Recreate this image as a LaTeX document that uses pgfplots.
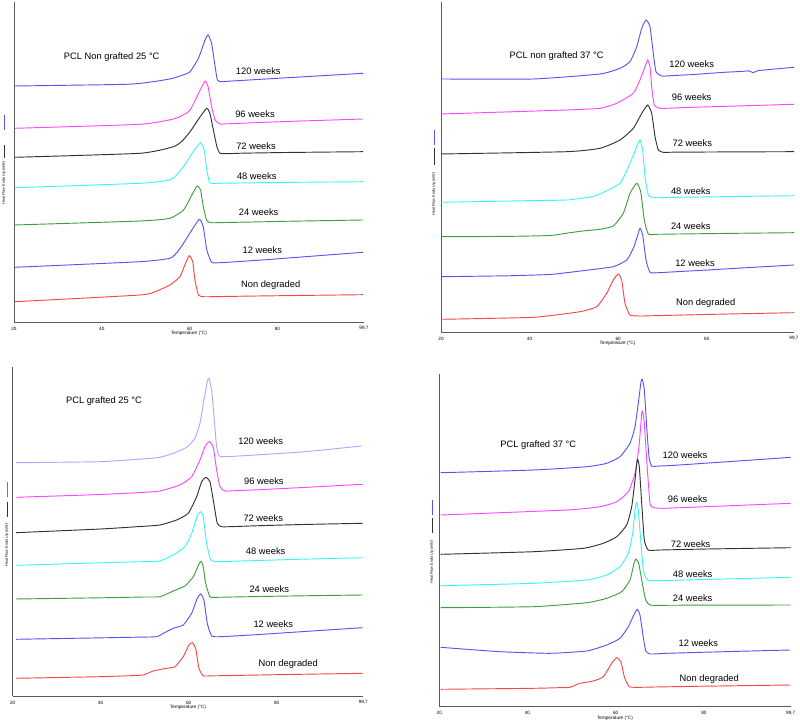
\documentclass[border=0pt]{standalone}
\usepackage{pgfplots}
\pgfplotsset{compat=1.18}
\usepackage{fontspec}
\setmainfont{Liberation Sans}
\definecolor{cblue}{RGB}{85,85,240}
\definecolor{cmag}{RGB}{255,70,255}
\definecolor{cblack}{RGB}{50,50,50}
\definecolor{ccyan}{RGB}{60,245,245}
\definecolor{cgreen}{RGB}{60,160,60}
\definecolor{cred}{RGB}{245,70,70}
\definecolor{clav}{RGB}{170,170,255}
\definecolor{caxis}{RGB}{90,90,90}
\pgfplotsset{dscax/.style={scale only axis, xmin=20, xmax=99.7, ymin=0,
  axis x line=bottom, axis y line=left,
  axis line style={-, draw=caxis, line width=0.6pt},
  xtick={20,40,60,80,99.7}, xticklabels={20,40,60,80,{99,7}},
  ytick=\empty, major tick length=0pt,
  /pgf/number format/assume math mode=true,
  tick label style={font=\fontsize{3.5}{4}\selectfont, text=black},
  xticklabel style={anchor=center, yshift=-5pt},
  xlabel={Temperature (°C)},
  xlabel style={font=\fontsize{3.5}{4}\selectfont, at={(axis description cs:0.5,0)}, anchor=center, yshift=-8.6pt},
  clip=false,
  every axis plot/.append style={smooth, tension=0.3, line width=0.7pt, no markers}}}
\tikzset{lab/.style={font=\fontsize{7}{8}\selectfont},
  ylab/.style={font=\fontsize{2.8}{3}\selectfont, rotate=90}}
\begin{document}
\begin{tikzpicture}
\useasboundingbox (0,0) rectangle (600pt,543pt);
% ---------------- Top left
\begin{axis}[dscax, at={(10.5pt,301.5pt)}, anchor=south west, width=262.5pt, height=240pt, ymax=320]
\addplot[cblue] coordinates {(20.2,236) (45.7,237.7) (52,240.5) (56,243.5) (58.5,247) (60.1,250.3) (62.0,263.7) (63.5,282) (64.2,287) (65.0,278.7) (65.8,255.3) (66.3,242) (66.9,240.3) (68.5,240.7) (72,241.6) (82,244.2) (99.5,248.7)};
\addplot[cmag] coordinates {(20.2,193.7) (48.7,197.7) (56.3,203) (58.3,206.5) (60.1,212) (62.4,232) (63.5,241) (64.2,235.3) (65.0,215.3) (65.8,202) (66.9,198) (68.5,198.2) (72,198.8) (82,200.5) (99.5,203)};
\addplot[cblack] coordinates {(20.2,164.7) (48.7,168.7) (56.3,175.3) (58.3,181) (60.1,190.3) (62.4,205.3) (63.9,213.7) (64.6,208.7) (65.4,192) (66.2,175.3) (66.9,168.7) (68.5,168.3) (72,168.8) (82,169.5) (99.5,170.3)};
\addplot[ccyan] coordinates {(20.2,134.3) (48.7,138.7) (55.5,142) (57,147) (58.6,155.3) (60.8,170.3) (62.5,179.3) (63.3,172) (63.9,152) (64.6,139.3) (66.2,138.7) (69,138.8) (78,139.4) (99.5,140.3)};
\addplot[cgreen] coordinates {(20.2,97) (48.7,101) (55.5,103.7) (58.6,112) (60.5,127) (61.7,136) (62.5,132) (63.1,115.3) (63.9,101.3) (65.0,99.3) (67,99.4) (72,99.8) (82,100.7) (99.5,102)};
\addplot[cblue] coordinates {(20.2,54.7) (48.7,60.3) (55.5,63.7) (57.2,70) (58.6,78.7) (60.5,92) (62.2,102.7) (63.1,95.3) (63.9,72) (65.0,59.7) (66.9,59.3) (70,60.1) (78,62.5) (99.5,69.7)};
\addplot[cred] coordinates {(20.2,20.3) (48.7,27) (52.5,31) (55.5,37) (57.8,45.3) (58.9,57) (59.9,66.3) (60.7,60.3) (61.2,42) (62.0,27) (63.1,25.3) (65,25.3) (69,25.6) (79,26.2) (99.5,27.3)};
\node[lab] at (axis cs:42.25,265.3) {PCL Non grafted 25 °C};
\node[lab] at (axis cs:75.63,251.3) {120 weeks};
\node[lab] at (axis cs:74.88,208.3) {96 weeks};
\node[lab] at (axis cs:75.11,176.3) {72 weeks};
\node[lab] at (axis cs:75.27,146.3) {48 weeks};
\node[lab] at (axis cs:75.72,109.7) {24 weeks};
\node[lab] at (axis cs:76.54,71.7) {12 weeks};
\node[lab] at (axis cs:78.45,36.7) {Non degraded};
\node[ylab] at (axis cs:17.72,139) {Heat Flow Endo Up (mW)};
\draw[cblack, line width=0.5pt] (axis cs:17.72,164) -- (axis cs:17.72,177);
\draw[cblue, line width=0.5pt] (axis cs:17.72,192) -- (axis cs:17.72,207);
\end{axis}
% ---------------- Top right
\begin{axis}[dscax, at={(330.75pt,294pt)}, anchor=south west, width=264.75pt, height=247.5pt, ymax=330]
\addplot[cblue] coordinates {(20,253) (40.84,253) (55.90,258) (60.42,263.7) (62.67,270.3) (64.19,285.3) (65.32,303.7) (66.29,312) (67.19,305.3) (67.93,278.7) (68.54,260.3) (69.83,256) (72,256.3) (77,257.5) (84,259.7) (88,260.6) (89.5,261.1) (90.5,259.3) (91.5,261.3) (95,262.8) (99.7,264.7)};
\addplot[cmag] coordinates {(20,218) (48.38,222) (55.9,223.7) (59.67,228.7) (63.42,238.7) (64.93,252) (66.06,265.3) (66.67,272) (67.19,265.3) (67.57,245.3) (68.16,227) (69.45,223.7) (71.5,223.8) (76,224.6) (86,225.9) (99.7,227.7)};
\addplot[cblack] coordinates {(20,178) (48.38,180.3) (55.9,183.7) (60.42,192) (63.42,203.7) (65.32,218.7) (66.67,227) (67.57,218.7) (68.32,195.3) (69.06,182) (70.19,179.7) (72.5,179.8) (77,179.9) (86,180.1) (99.7,180.3)};
\addplot[ccyan] coordinates {(20,129.7) (38,131.2) (48.38,132) (53.64,135) (55.9,138) (60.42,148.7) (62.67,168.7) (64.19,185.3) (64.93,192) (65.54,182) (66.06,155.3) (66.81,137) (68.32,134.3) (71,134.5) (77,134.9) (87,135.5) (99.7,136.3)};
\addplot[cgreen] coordinates {(20,95.3) (35,95.6) (44.61,96.5) (48.38,98.8) (52,101) (55.90,102.7) (58.90,106) (61.16,118.7) (62.67,138.7) (64.19,148.7) (65.09,140.3) (65.90,112) (66.81,98) (68.70,97.7) (72,97.9) (79,98.3) (89,98.8) (99.7,99.3)};
\addplot[cblue] coordinates {(20,55.3) (35,56.2) (44.61,57.5) (48.38,59.3) (53,61.8) (58.90,65.3) (61.93,72) (63.42,83.7) (64.32,95.3) (64.93,103.7) (65.54,97) (66.29,72) (67.19,59.7) (69.06,59.3) (72,60) (79,61.7) (89,64.3) (99.7,67)};
\addplot[cred] coordinates {(20,12.7) (40.84,14.7) (51.38,20.3) (55.16,25.3) (57.41,38.7) (58.90,52) (60.03,58) (60.80,52) (61.54,28.7) (62.67,17) (64.93,16) (68,16.3) (75,17) (86,18.1) (99.7,19.3)};
\node[lab] at (axis cs:46.12,276) {PCL non grafted 37 °C};
\node[lab] at (axis cs:76.60,268) {120 weeks};
\node[lab] at (axis cs:76.60,235.3) {96 weeks};
\node[lab] at (axis cs:76.74,189.3) {72 weeks};
\node[lab] at (axis cs:76.38,141.3) {48 weeks};
\node[lab] at (axis cs:76.38,106.3) {24 weeks};
\node[lab] at (axis cs:77.35,69.3) {12 weeks};
\node[lab] at (axis cs:79.77,29.3) {Non degraded};
\node[ylab] at (axis cs:18.42,138) {Heat Flow Endo Up (mW)};
\draw[cblack, line width=0.5pt] (axis cs:18.42,167) -- (axis cs:18.42,184);
\draw[cblue, line width=0.5pt] (axis cs:18.42,187) -- (axis cs:18.42,202);
\end{axis}
% ---------------- Bottom left
\begin{axis}[dscax, at={(9.525pt,21pt)}, anchor=south west, width=262.95pt, height=246.75pt, ymax=329]
\addplot[clav] coordinates {(20.75,233.3) (39.84,234.3) (50,237.2) (53.48,238.7) (56.5,242.7) (59.55,248.7) (61.43,257.7) (62.57,272.7) (63.48,296) (64.23,314.3) (64.61,317.7) (65.23,306) (65.82,276) (66.36,249.3) (66.95,240) (68.64,239.3) (71,239.9) (77,241.5) (87,244.5) (99.32,250)};
\addplot[cmag] coordinates {(20.75,198.7) (40,201.5) (50,203.7) (53.48,205) (58.02,211) (60.68,219.3) (62.57,236) (63.70,249.3) (64.68,254.3) (65.59,249.3) (66.36,226) (67.11,209.3) (68.25,205) (70.5,205.3) (76,206.3) (86,208.5) (99.55,211.7)};
\addplot[cblack] coordinates {(20.75,163.3) (40,167) (50,169.8) (53.48,171) (57.27,176) (59.91,182.7) (61.82,199.3) (62.95,214.3) (63.93,218.7) (64.84,214.3) (65.59,196) (66.50,172.7) (67.5,169.3) (70,169.4) (76,170.3) (86,171.5) (99.55,172.7)};
\addplot[ccyan] coordinates {(20.75,130.7) (40,133.2) (50,134.4) (53.48,135) (56.5,141) (59.16,149.3) (60.68,162.7) (62.05,181) (62.73,184.3) (63.32,179.3) (64.09,152.7) (65.0,136) (66.36,134.3) (69,134.6) (75,135.4) (86,136.8) (99.55,138.3)};
\addplot[cgreen] coordinates {(20.75,97) (40,98.2) (50,99) (53.48,99.3) (56.5,105) (59.16,110) (61.05,119.3) (62.34,132) (62.86,134.7) (63.32,129.3) (63.86,112.7) (64.84,99.3) (66.36,98.7) (69,98.9) (75,99.4) (86,100.2) (99.55,101)};
\addplot[cblue] coordinates {(20.75,56.7) (38,58) (48,58.8) (52.73,59.3) (54.23,62.7) (56.5,67.7) (58.77,71) (60.68,82.7) (61.95,97.7) (62.73,102) (63.48,96) (64.23,72.7) (65.23,60) (67.11,59.3) (70,59.9) (76,61.5) (86,64.4) (99.55,68.3)};
\addplot[cred] coordinates {(20.75,17.7) (39.84,19.3) (46,20.2) (49.68,21) (51.95,25) (55.0,27.7) (56.89,29.3) (58.77,39.3) (60.07,51) (60.82,53.3) (61.59,47.7) (62.34,27.7) (63.32,20.3) (65.5,20.2) (70,20.5) (80,21.3) (99.55,22.7)};
\node[lab] at (axis cs:40.75,295) {PCL grafted 25 °C};
\node[lab] at (axis cs:76.36,255) {120 weeks};
\node[lab] at (axis cs:77.11,215.3) {96 weeks};
\node[lab] at (axis cs:76.95,178.3) {72 weeks};
\node[lab] at (axis cs:77.5,145) {48 weeks};
\node[lab] at (axis cs:78.32,106.7) {24 weeks};
\node[lab] at (axis cs:79.23,72.3) {12 weeks};
\node[lab] at (axis cs:82.64,32.3) {Non degraded};
\node[ylab] at (axis cs:18.7,151) {Heat Flow Endo Up (mW)};
\draw[cblack, line width=0.5pt] (axis cs:18.7,179) -- (axis cs:18.7,194);
\draw[cred, line width=0.5pt] (axis cs:18.7,199) -- (axis cs:18.7,214);
\end{axis}
% ---------------- Bottom right
\begin{axis}[dscax, at={(329.475pt,12.975pt)}, anchor=south west, width=263.55pt, height=249.5pt, ymax=332.7]
\addplot[cblue] coordinates {(20.32,234) (41.32,236.7) (53.43,240) (57.97,243.4) (60.99,250) (63.25,263.4) (64.39,280) (65.13,303.4) (65.75,325) (66.04,327.4) (66.5,316.7) (67.04,280) (67.56,250) (68.17,240.7) (70.06,240.7) (73,241.3) (80,243.4) (90,246.4) (99.7,249.4)};
\addplot[cmag] coordinates {(20.32,191.7) (48.9,196.7) (56.45,200) (60.24,205) (62.87,215) (64.39,233.4) (65.29,260) (65.91,293.4) (66.13,295) (66.5,283.4) (67.04,246.7) (67.79,203.4) (68.69,199) (70.80,198.4) (74,198.9) (82,200.3) (99.7,203.4)};
\addplot[cblack] coordinates {(20.32,152.4) (41.32,155) (52.66,158.4) (57.2,163.4) (60.24,170) (62.5,181.7) (63.64,200) (64.39,226.7) (64.91,247.4) (65.36,240) (65.91,203.4) (66.5,166.7) (67.4,156.7) (70.06,156.7) (74,157.1) (82,157.8) (99.7,159)};
\addplot[ccyan] coordinates {(20.32,121) (41.32,123.4) (53.43,126.7) (57.97,131.7) (60.99,140) (62.87,153.4) (63.86,173.4) (64.39,196.7) (64.68,204) (65.13,196.7) (65.68,166.7) (66.27,136.7) (67.18,126.7) (69.31,126) (73,126.4) (81,127.3) (99.7,129.4)};
\addplot[cgreen] coordinates {(20.32,99) (41.32,100) (53.43,104) (57.97,108.4) (61.37,115) (63.25,126.7) (64.16,143.4) (64.61,147.7) (65.22,143.4) (65.91,126.7) (66.81,106.7) (67.79,101.7) (70.06,101.4) (75,101.5) (85,101.6) (99.7,101.7)};
\addplot[cblue] coordinates {(20.32,59.4) (33.77,55) (45.11,53.4) (53.43,55.7) (57.97,61.7) (60.99,68.4) (62.87,80) (64.23,92.7) (64.91,97.4) (65.52,91.7) (66.13,73.4) (66.81,56) (67.79,52.7) (71.58,53.4) (78,54.2) (88,55.4) (99.54,56.7)};
\addplot[cred] coordinates {(20.32,17.4) (41.32,18.4) (47,19) (49.64,19.4) (51.91,23.4) (54.93,25.7) (57.2,30) (59.1,43.4) (60.24,49) (61.21,45) (61.96,30) (63.09,20) (65.52,19.4) (69,19.7) (77,20.3) (88,21) (99.7,21.7)};
\node[lab] at (axis cs:42.45,261.7) {PCL grafted 37 °C};
\node[lab] at (axis cs:75.73,251.7) {120 weeks};
\node[lab] at (axis cs:76.34,207.4) {96 weeks};
\node[lab] at (axis cs:77.02,162.4) {72 weeks};
\node[lab] at (axis cs:77.47,132.4) {48 weeks};
\node[lab] at (axis cs:77.47,108.4) {24 weeks};
\node[lab] at (axis cs:78.74,63.4) {12 weeks};
\node[lab] at (axis cs:81.24,28) {Non degraded};
\node[ylab] at (axis cs:18.34,144.7) {Heat Flow Endo Up (mW)};
\draw[cblack, line width=0.5pt] (axis cs:18.34,173.7) -- (axis cs:18.34,188.7);
\draw[cblue, line width=0.5pt] (axis cs:18.34,191.7) -- (axis cs:18.34,206.7);
\end{axis}
\end{tikzpicture}
\end{document}
